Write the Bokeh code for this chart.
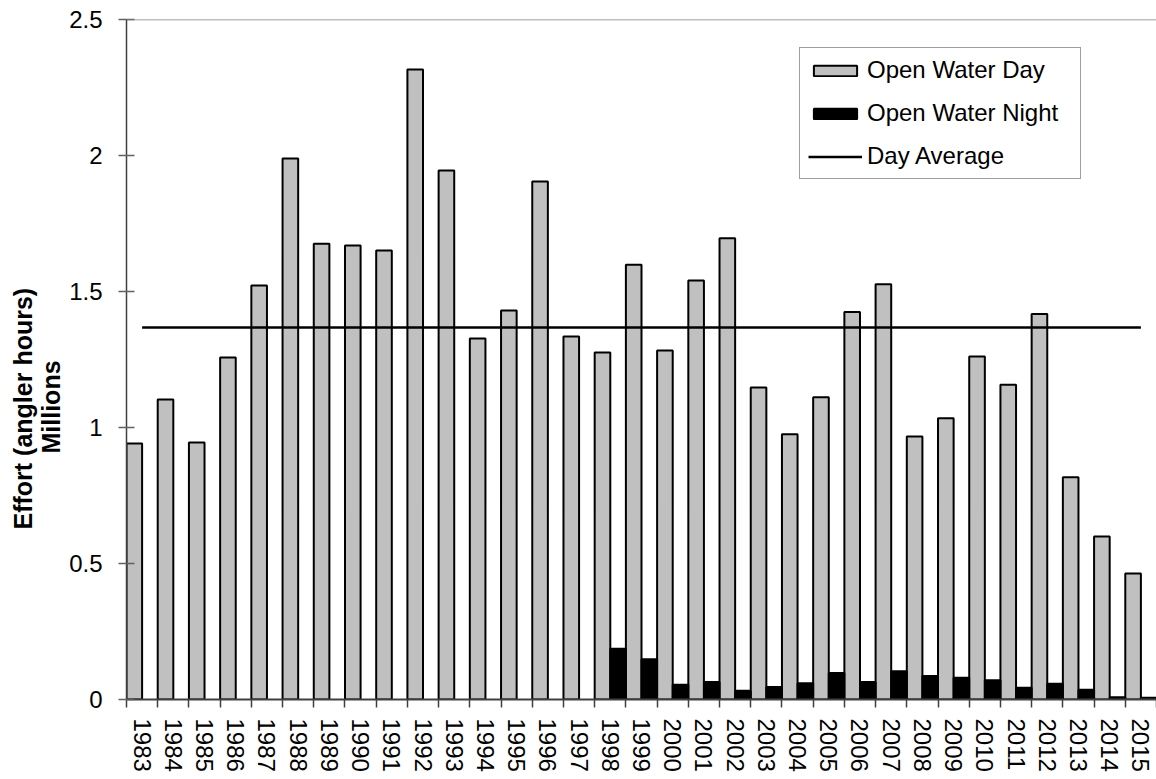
import math
from bokeh.plotting import figure
from bokeh.models import (Range1d, FixedTicker, Span, Title, Legend, LegendItem,
                          ColumnDataSource)
from bokeh.embed import file_html
from bokeh.resources import INLINE

# ---------------- data (millions of angler hours) ----------------
years = ["1983", "1984", "1985", "1986", "1987", "1988", "1989", "1990", "1991",
         "1992", "1993", "1994", "1995", "1996", "1997", "1998", "1999", "2000",
         "2001", "2002", "2003", "2004", "2005", "2006", "2007", "2008", "2009",
         "2010", "2011", "2012", "2013", "2014", "2015"]
open_water_day = [0.941, 1.103, 0.945, 1.257, 1.522, 1.989, 1.676, 1.669, 1.651,
                  2.316, 1.945, 1.327, 1.430, 1.904, 1.335, 1.276, 1.598, 1.283,
                  1.540, 1.696, 1.147, 0.975, 1.111, 1.425, 1.527, 0.967, 1.034,
                  1.261, 1.157, 1.417, 0.817, 0.599, 0.463]
open_water_night = [None, None, None, None, None, None, None, None, None,
                    None, None, None, None, None, None, 0.187, 0.148, 0.054,
                    0.064, 0.032, 0.046, 0.060, 0.097, 0.064, 0.104, 0.086, 0.080,
                    0.071, 0.043, 0.058, 0.036, 0.008, 0.006]
day_average = 1.368
y_ticks = [0, 0.5, 1, 1.5, 2, 2.5]
y_tick_labels = ["0", "0.5", "1", "1.5", "2", "2.5"]
y_title_1 = "Effort (angler hours)"
y_title_2 = "Millions"

FONT = "Liberation Sans"
n = len(years)
centers = [i + 0.5 for i in range(n)]

src = ColumnDataSource(dict(
    xd=[i + 0.25 for i in range(n)],
    xn=[i + 0.75 for i in range(n)],
    day=open_water_day,
    night=[float("nan") if v is None else v for v in open_water_night],
))

p = figure(width=1156, height=779, output_backend="svg", toolbar_location=None,
           x_range=Range1d(0, n), y_range=Range1d(y_ticks[0], y_ticks[-1]),
           min_border_left=126, min_border_right=0, min_border_top=19,
           min_border_bottom=80)
p.outline_line_color = None
p.xgrid.visible = False
p.ygrid.visible = False
p.background_fill_color = "white"
p.border_fill_color = "white"

r_day = p.vbar(x="xd", top="day", bottom=0, width=0.5, source=src,
               fill_color="#C0C0C0", line_color="black", line_width=2)
r_night = p.vbar(x="xn", top="night", bottom=0, width=0.5, source=src,
                 fill_color="black", line_color="black", line_width=2)
r_avg = p.line(x=[centers[0], centers[-1]], y=[day_average, day_average],
               line_color="black", line_width=2.5)

# top line at the axis maximum
p.add_layout(Span(location=y_ticks[-1], dimension="width",
                  line_color="#808080", line_width=1.5))

# x axis
xa = p.xaxis[0]
xa.ticker = FixedTicker(ticks=centers, minor_ticks=list(range(n + 1)))
xa.major_label_overrides = {c: y for c, y in zip(centers, years)}
xa.major_label_orientation = -math.pi / 2
xa.major_tick_line_color = None
xa.major_tick_in = 0
xa.major_tick_out = 8
xa.minor_tick_in = 0
xa.minor_tick_out = 8
xa.minor_tick_line_color = "#404040"
xa.minor_tick_line_width = 1.5
xa.axis_line_color = "#404040"
xa.axis_line_width = 2
xa.major_label_standoff = 11
xa.major_label_text_font = FONT
xa.major_label_text_font_size = "24px"
xa.major_label_text_color = "black"

# y axis
ya = p.yaxis[0]
ya.ticker = FixedTicker(ticks=y_ticks, minor_ticks=[])
ya.major_label_overrides = {t: l for t, l in zip(y_ticks, y_tick_labels)}
ya.major_tick_in = 8
ya.major_tick_out = 8
ya.major_tick_line_color = "#606060"
ya.major_tick_line_width = 1.5
ya.minor_tick_line_color = None
ya.axis_line_color = "#404040"
ya.axis_line_width = 1.5
ya.major_label_standoff = 16
ya.major_label_text_font = FONT
ya.major_label_text_font_size = "24px"
ya.major_label_text_color = "black"

# y axis title: two lines, placed as side titles (closest first)
t2 = Title(text=y_title_2, align="left", offset=246, standoff=0,
           vertical_align="top",
           text_font=FONT, text_font_size="25px", text_font_style="bold",
           text_color="black")
t1 = Title(text=y_title_1, align="left", offset=170, standoff=0,
           text_font=FONT, text_font_size="25px", text_font_style="bold",
           text_color="black")
p.add_layout(t2, "left")
p.add_layout(t1, "left")

legend = Legend(items=[LegendItem(label="Open Water Day", renderers=[r_day]),
                       LegendItem(label="Open Water Night", renderers=[r_night]),
                       LegendItem(label="Day Average", renderers=[r_avg])],
                location=(673, 520))
legend.padding = 8
legend.spacing = 15
legend.margin = 0
legend.glyph_width = 54
legend.glyph_height = 13
legend.label_standoff = 5
legend.label_height = 27
legend.label_width = 205
legend.label_text_font = FONT
legend.label_text_font_size = "24px"
legend.label_text_color = "black"
legend.border_line_color = "#404040"
legend.border_line_width = 1
legend.background_fill_color = "white"
legend.background_fill_alpha = 1
p.add_layout(legend)

open("out.html", "w").write(file_html(p, INLINE))
